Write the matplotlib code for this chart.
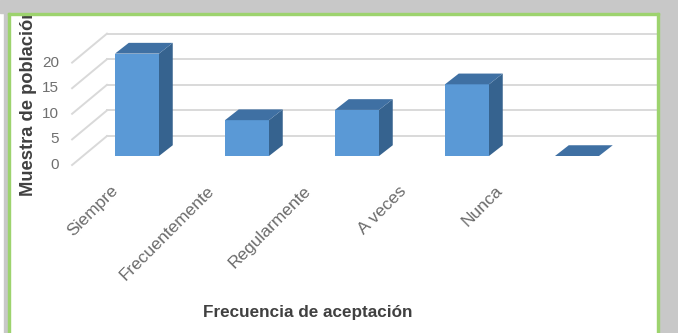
import matplotlib.pyplot as plt
from matplotlib.patches import Polygon, Rectangle
import numpy as np

categories = ['Siempre', 'Frecuentemente', 'Regularmente', 'A veces', 'Nunca']
values = [20, 7, 9, 14, 0]
y_ticks = [0, 5, 10, 15, 20]

plt.rcParams['font.family'] = ['Liberation Sans', 'DejaVu Sans']

W, H = 678, 333
fig = plt.figure(figsize=(W / 100, H / 100), dpi=100)
fig.patch.set_facecolor('white')

# plot area sits inside the green frame
L, R, T, B = 10, 657, 15, 333
ax = fig.add_axes([L / W, 0, (R - L) / W, (B - T) / H])
ax.set_xlim((L - 137) / 110, (R - 137) / 110)
ax.set_ylim((156 - B) / 5.12, (156 - T) / 5.12)
ax.axis('off')

front = '#5a99d6'
top = '#3f70a3'
side = '#36638f'
grid = '#d9d9d9'

# pseudo 3D depth
dx, dy = 0.125, 2.1          # bar depth
wall_dx, wall_dy = -0.273, 3.9   # back wall offset
edge_x, edge_dy = -0.59, -1.76   # front edge of the side wall

for v in y_ticks:
    ax.plot([wall_dx, 5.5], [v + wall_dy, v + wall_dy], color=grid, lw=1.4, zorder=1)
    ax.plot([edge_x, wall_dx], [v + edge_dy, v + wall_dy], color=grid, lw=1.4, zorder=1)
    ax.text(edge_x - 0.12, v + edge_dy, str(v), ha='right', va='center',
            fontsize=11, color='#6f6f6f')

x = np.arange(len(categories))
w = 0.4
ax.bar(x, values, width=w, color=front, zorder=3)
for xi, v in zip(x, values):
    l, r = xi - w / 2, xi + w / 2
    ax.add_patch(Polygon([(r, 0), (r + dx, dy), (r + dx, v + dy), (r, v)],
                         closed=True, facecolor=side, edgecolor='none', zorder=3))
    ax.add_patch(Polygon([(l, v), (r, v), (r + dx, v + dy), (l + dx, v + dy)],
                         closed=True, facecolor=top, edgecolor='none', zorder=4))

for i, name in enumerate(categories):
    ax.text(-0.145 + 0.874 * i, -5.27, name, rotation=45, ha='right', va='top',
            fontsize=12.5, color='#6b6b6b')

fig.text(308 / W, 1 - 312 / H, 'Frecuencia de aceptación', ha='center', va='center',
         fontsize=12.3, fontweight='bold', color='#404040')
ax.text(-0.99, (156 - 196) / 5.12, 'Muestra de población', rotation=90, ha='center',
        va='bottom', fontsize=13.2, fontweight='bold', color='#404040', clip_on=True)

# outer grey border and green frame
gray = '#c8c8c8'
green = '#9dd36e'
fig.patches.extend([
    Rectangle((0, 1 - 13 / H), 1, 13 / H, transform=fig.transFigure, color=gray, zorder=5),
    Rectangle((4 / W, 0), 4 / W, 1, transform=fig.transFigure, color=gray, zorder=5),
    Rectangle((659 / W, 0), 19 / W, 1, transform=fig.transFigure, color=gray, zorder=5),
    Rectangle((8 / W, 0), 2 / W, 1 - 13 / H, transform=fig.transFigure, color=green, zorder=6),
    Rectangle((657 / W, 0), 2 / W, 1 - 13 / H, transform=fig.transFigure, color=green, zorder=6),
    Rectangle((8 / W, 1 - 15 / H), 651 / W, 2 / H, transform=fig.transFigure, color=green, zorder=6),
])

fig.savefig('out.png', dpi=100)
